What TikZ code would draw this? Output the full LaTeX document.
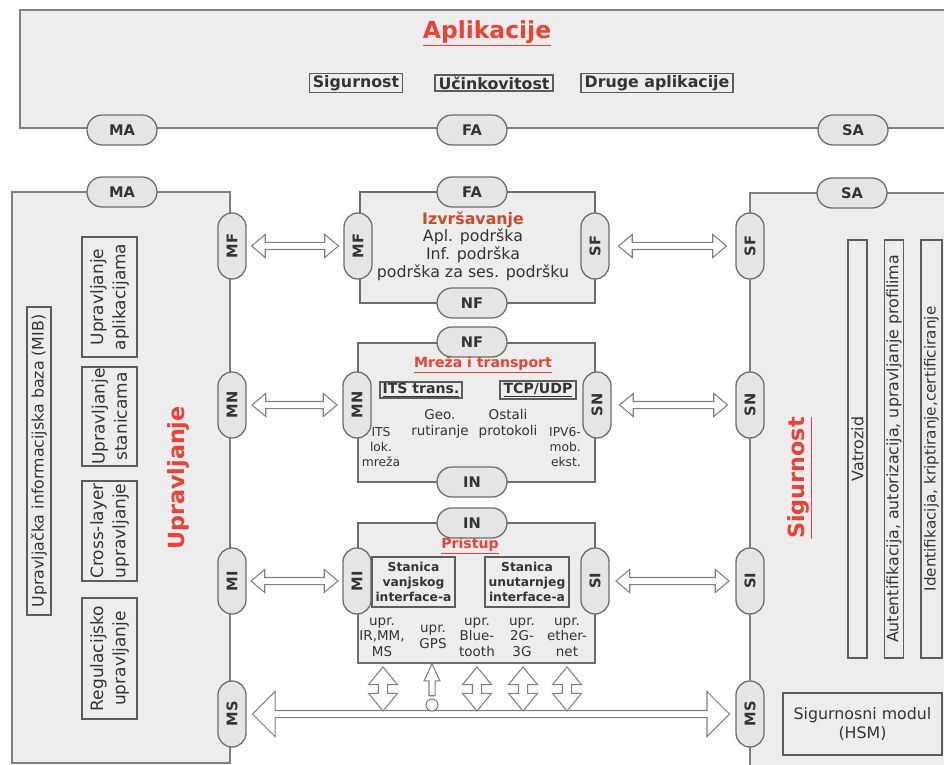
\documentclass[tikz,border=0pt]{standalone}
\usepackage{fontspec}
\setmainfont{DejaVu Sans}
\usetikzlibrary{shapes.misc, shapes.arrows, calc, positioning}

\definecolor{panelgray}{RGB}{237,237,237}
\definecolor{edgegray}{RGB}{128,128,128}
\definecolor{pillgray}{RGB}{229,229,229}
\definecolor{inkgray}{RGB}{52,52,52}
\definecolor{titlered}{RGB}{236,66,54}
\definecolor{layerred}{RGB}{200,76,44}

\newcommand{\fsz}[2]{\fontsize{#1}{#2}\selectfont}

\begin{document}
\begin{tikzpicture}[
    x=0.03cm, y=-0.03cm,
    every node/.style={text=inkgray, font=\fsz{12}{14}},
    panel/.style={draw=edgegray, line width=1.2pt, fill=panelgray},
    layerbox/.style={rectangle, draw=edgegray!85!black, line width=1.8pt, fill=panelgray, inner sep=0pt},
    pill/.style={draw=edgegray!85!black, line width=1.1pt, fill=pillgray, inner sep=0pt,
        font=\fsz{12.5}{14}\bfseries},
    hpill/.style={pill, rounded rectangle, minimum width=2.1cm, minimum height=0.9cm},
    vpill/.style={pill, rounded rectangle, rotate=90, minimum width=1.98cm, minimum height=0.84cm},
    title/.style={text=titlered, font=\fsz{20}{22}\bfseries},
    subtitle/.style={text=titlered, font=\fsz{12}{14}\bfseries},
    topbox/.style={draw=inkgray!80, line width=1.3pt, inner xsep=3pt, inner ysep=1.5pt,
        font=\fsz{13.5}{15}\bfseries},
    framebox/.style={draw=inkgray!80, line width=1.2pt, align=center},
    vbox/.style={framebox, rotate=90, inner sep=1pt},
    small/.style={align=center, font=\fsz{11.5}{13.2}},
    dot/.style={circle, draw=edgegray, line width=0.9pt, fill=white, minimum size=0.36cm, inner sep=0pt},
    smallarrow/.style={double arrow, draw=edgegray, line width=0.9pt, fill=white,
        inner xsep=0pt, inner ysep=0.09cm, text height=0pt, text depth=0pt,
        double arrow head extend=0.24cm, double arrow tip angle=80},
    vertarrow/.style={smallarrow, inner ysep=0.12cm, double arrow head extend=0.3cm,
        double arrow tip angle=79},
    busarrow/.style={smallarrow, inner ysep=0.09cm, double arrow head extend=0.57cm,
        double arrow tip angle=90},
    gpsarrow/.style={single arrow, draw=edgegray, line width=0.9pt, fill=white,
        inner xsep=0pt, inner ysep=0.075cm, text height=0pt, text depth=0pt,
        single arrow head extend=0.15cm, single arrow tip angle=50},
    arrowshape/.style={smallarrow},
    hollow/.style={to path={
        let \p1=($(\tikztotarget)-(\tikztostart)$) in
        node[arrowshape, minimum height={veclen(\x1,\y1)-#1}, rotate={atan2(\y1,\x1)}]
        at ($(\tikztostart)!0.5!(\tikztotarget)$) {}}},
    hollow/.default=0pt
]

\useasboundingbox (0,0) rectangle (944,765);

% --- panels ---
\draw [panel] (20,10) rectangle (975,128);
\draw [panel] (12,192) rectangle (230,763);
\draw [panel] (750,193) rectangle (975,790);

% --- layer boxes ---
\node (izvrs) [layerbox, minimum width=7.05cm, minimum height=3.33cm] at (477.5,247.5) {};
\node (mreza) [layerbox, minimum width=7.11cm, minimum height=4.17cm] at (476.5,412.5) {};
\node (pristup) [layerbox, minimum width=7.11cm, minimum height=4.2cm] at (476.5,593) {};

% --- interface pills ---
\node (maT) [hpill] at (122,130) {MA};
\node (faT) [hpill] at (472,130) {FA};
\node (saT) [hpill] at (853,130) {SA};
\node (maL) [hpill] at (122,192) {MA};
\node (faM) [hpill] at (472,192) {FA};
\node (saR) [hpill] at (852,193) {SA};
\node (nfA) [hpill] at (472,303) {NF};
\node (nfB) [hpill] at (472,342) {NF};
\node (inA) [hpill] at (472,482) {IN};
\node (inB) [hpill] at (472,523) {IN};

\node (mfL) [vpill] at (232,246) {MF};
\node (mfM) [vpill] at (358,246) {MF};
\node (sfM) [vpill] at (595,246) {SF};
\node (sfR) [vpill] at (750,246) {SF};
\node (mnL) [vpill] at (232,405) {MN};
\node (mnM) [vpill] at (357,405) {MN};
\node (snM) [vpill] at (597,405) {SN};
\node (snR) [vpill] at (750,405) {SN};
\node (miL) [vpill] at (232,581) {MI};
\node (miM) [vpill] at (357,581) {MI};
\node (siM) [vpill] at (595,581) {SI};
\node (siR) [vpill] at (750,581) {SI};
\node (msL) [vpill] at (232,714) {MS};
\node (msR) [vpill] at (750,714) {MS};

% --- hollow arrows ---
\path (mfL) to[hollow=1.17cm] (mfM);
\path (sfM) to[hollow=1.41cm] (sfR);
\path (mnL) to[hollow=1.2cm] (mnM);
\path (snM) to[hollow=1.35cm] (snR);
\path (miL) to[hollow=1.14cm] (miM);
\path (siM) to[hollow=1.26cm] (siR);
\path [arrowshape/.style=busarrow] (msL) to[hollow=1.23cm] (msR);

\coordinate (top1) at (383,667);
\coordinate (top3) at (477,667);
\coordinate (top4) at (523,667);
\coordinate (top5) at (567,667);
\coordinate (bus1) at (383,711);
\coordinate (bus3) at (477,711);
\coordinate (bus4) at (523,711);
\coordinate (bus5) at (567,711);
\path [arrowshape/.style=vertarrow] (top1) to[hollow] (bus1);
\path [arrowshape/.style=vertarrow] (top3) to[hollow] (bus3);
\path [arrowshape/.style=vertarrow] (top4) to[hollow] (bus4);
\path [arrowshape/.style=vertarrow] (top5) to[hollow] (bus5);

\node (gps) [dot] at (432,705) {};
\coordinate (top2) at (432,661);
\path [arrowshape/.style=gpsarrow] (gps) to[hollow=0.36cm] (top2);

% --- applications ---
\node (apltitle) [title] at (487,33) {\underline{Aplikacije}};
\node (sigapp) [topbox] at (356,83) {Sigurnost};
\node (ucin) [topbox] at (494,83) {Učinkovitost};
\node (druge) [topbox] at (657,83) {Druge aplikacije};

% --- facilities layer ---
\node (izvrstxt) [align=center, font=\fsz{13.5}{15}] at (473,246)
    {\textcolor{layerred}{\bfseries Izvršavanje}\\Apl. podrška\\Inf. podrška\\podrška za ses. podršku};

% --- network layer ---
\node (mrezatitle) [subtitle] at (483,365) {\underline{Mreža i transport}};
\node (itstrans) [framebox, line width=1.6pt, inner xsep=2.5pt, inner ysep=1.5pt, font=\fsz{12}{13}\bfseries]
    at (421,390) {\underline{ITS trans.}};
\node (tcpudp) [framebox, line width=1.6pt, inner xsep=3pt, inner ysep=1.5pt, font=\fsz{12}{13}\bfseries]
    at (538,390) {\underline{TCP/UDP}};
\node (geo) [small] at (440,424) {Geo.\\rutiranje};
\node (ostali) [small] at (508,424) {Ostali\\protokoli};
\node (itslok) [small, font=\fsz{10.5}{13.2}] at (381,447) {ITS\\lok.\\mreža};
\node (ipv6) [small, align=right, anchor=east, font=\fsz{10.5}{13.2}] at (585,447) {IPV6-\\mob.\\ekst.};

% --- access layer ---
\node (pristtitle) [subtitle] at (470,546) {\underline{Pristup}};
\node (vanjski) [framebox, inner sep=1.5pt, minimum width=2.49cm, minimum height=1.5cm,
    font=\fsz{10.5}{13}\bfseries] at (413.5,582) {Stanica\\vanjskog\\interface-a};
\node (unutarnji) [framebox, inner sep=1.5pt, minimum width=2.52cm, minimum height=1.5cm,
    font=\fsz{10.5}{13}\bfseries] at (527,582) {Stanica\\unutarnjeg\\interface-a};
\node (upr1) [small] at (382,637) {upr.\\IR,MM,\\MS};
\node (upr2) [small] at (433,637) {upr.\\GPS};
\node (upr3) [small] at (477,637) {upr.\\Blue-\\tooth};
\node (upr4) [small] at (522,637) {upr.\\2G-\\3G};
\node (upr5) [small] at (567,637) {upr.\\ether-\\net};

% --- management ---
\node (upravtitle) [title, rotate=90, font=\fsz{19}{21}\bfseries] at (178,478) {Upravljanje};
\node (mib) [vbox, minimum width=9.24cm, minimum height=0.72cm, font=\fsz{13.5}{15}] at (39,461)
    {Upravljačka informacijska baza (MIB)};
\node (uapl) [vbox, minimum width=3.6cm, minimum height=1.65cm, font=\fsz{14.5}{19}] at (109.5,297)
    {Upravljanje\\aplikacijama};
\node (ustan) [vbox, minimum width=2.97cm, minimum height=1.65cm, font=\fsz{14.5}{19}] at (109.5,416.5)
    {Upravljanje\\stanicama};
\node (ucross) [vbox, minimum width=3cm, minimum height=1.65cm, font=\fsz{14.5}{19}] at (109.5,531)
    {Cross-layer\\upravljanje};
\node (ureg) [vbox, minimum width=3.63cm, minimum height=1.65cm, font=\fsz{14.5}{19}] at (109.5,658.5)
    {Regulacijsko\\upravljanje};

% --- security ---
\node (sigtitle) [title, rotate=90, font=\fsz{19}{21}\bfseries] at (800,478) {\underline{Sigurnost}};
\node (vatro) [vbox, minimum width=12.54cm, minimum height=0.57cm, font=\fsz{13.5}{14}] at (857.5,449)
    {Vatrozid};
\node (autent) [vbox, minimum width=12.54cm, minimum height=0.57cm, font=\fsz{13.5}{14}] at (894,449)
    {Autentifikacija, autorizacija, upravljanje profilima};
\node (ident) [vbox, minimum width=12.54cm, minimum height=0.63cm, font=\fsz{13}{14}] at (931.5,449)
    {Identifikacija, kriptiranje,certificiranje};
\node (hsm) [framebox, minimum width=4.77cm, minimum height=1.86cm, font=\fsz{13.5}{17}] at (862.5,724)
    {Sigurnosni modul\\(HSM)};

\end{tikzpicture}
\end{document}
